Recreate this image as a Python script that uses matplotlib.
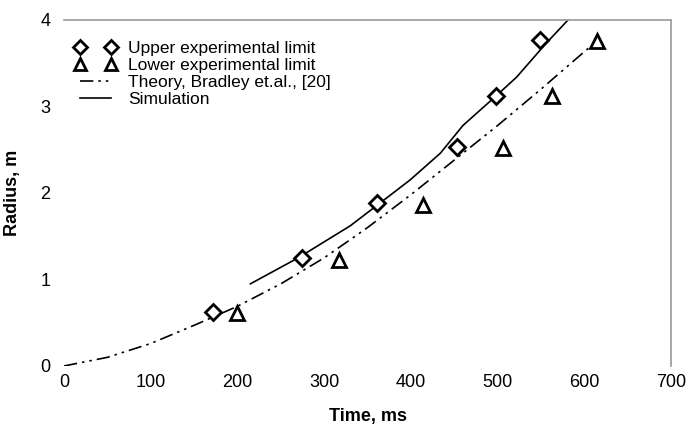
import matplotlib
matplotlib.use("Agg")
import matplotlib.pyplot as plt

plt.rcParams['font.family'] = ['Liberation Sans', 'DejaVu Sans']

# upper experimental limit (diamonds)
upper_t = [172, 274, 361, 453, 498, 549]
upper_r = [0.62, 1.25, 1.89, 2.53, 3.12, 3.77]

# lower experimental limit (triangles)
lower_t = [200, 317, 414, 506, 563, 615]
lower_r = [0.61, 1.23, 1.86, 2.52, 3.12, 3.76]

# theory, Bradley et al.
theory_t = [0, 50, 100, 150, 200, 250, 300, 350, 400, 450, 500, 550, 610]
theory_r = [0, 0.1, 0.26, 0.47, 0.69, 0.95, 1.25, 1.6, 1.98, 2.38, 2.78, 3.2, 3.72]

# simulation
sim_t = [215, 270, 330, 360, 399, 434, 460, 498, 522, 555, 584]
sim_r = [0.95, 1.25, 1.62, 1.85, 2.15, 2.46, 2.78, 3.12, 3.34, 3.72, 4.03]

fig = plt.figure(figsize=(6.9, 4.29), dpi=100)
ax = fig.add_axes([0.0928, 0.1469, 0.8797, 0.8065])

ax.plot(upper_t, upper_r, ls='none', marker='D', ms=8, mfc='white', mec='black',
        mew=2, label='Upper experimental limit', zorder=3)
ax.plot(lower_t, lower_r, ls='none', marker='^', ms=9.5, mfc='white', mec='black',
        mew=2, label='Lower experimental limit', zorder=3)
ax.plot(theory_t, theory_r, color='black', lw=1.2, ls=(0, (8, 3, 1.5, 3, 1.5, 3)),
        label='Theory, Bradley et.al., [20]')
ax.plot(sim_t, sim_r, color='black', lw=1.2, label='Simulation')

ax.set_xlim(0, 700)
ax.set_ylim(0, 4)
ax.set_xticks(range(0, 701, 100))
ax.set_yticks([0, 1, 2, 3, 4])
ax.tick_params(length=0, labelsize=13)
ax.tick_params(axis='y', pad=10)
ax.tick_params(axis='x', pad=6)

for s in ['left', 'bottom']:
    ax.spines[s].set_visible(False)
for s in ['top', 'right']:
    ax.spines[s].set_color('#999999')
    ax.spines[s].set_linewidth(1.2)

ax.set_xlabel('Time, ms', fontsize=13, fontweight='bold', labelpad=12)
ax.set_ylabel('Radius, m', fontsize=13, fontweight='bold', labelpad=14)

ax.legend(loc='upper left', bbox_to_anchor=(0.0, 0.97), frameon=False, numpoints=2,
          fontsize=12.5, handlelength=2.4, handletextpad=0.7, labelspacing=0.1,
          borderaxespad=0.2, markerscale=0.85)

fig.savefig('out.png', dpi=100)
